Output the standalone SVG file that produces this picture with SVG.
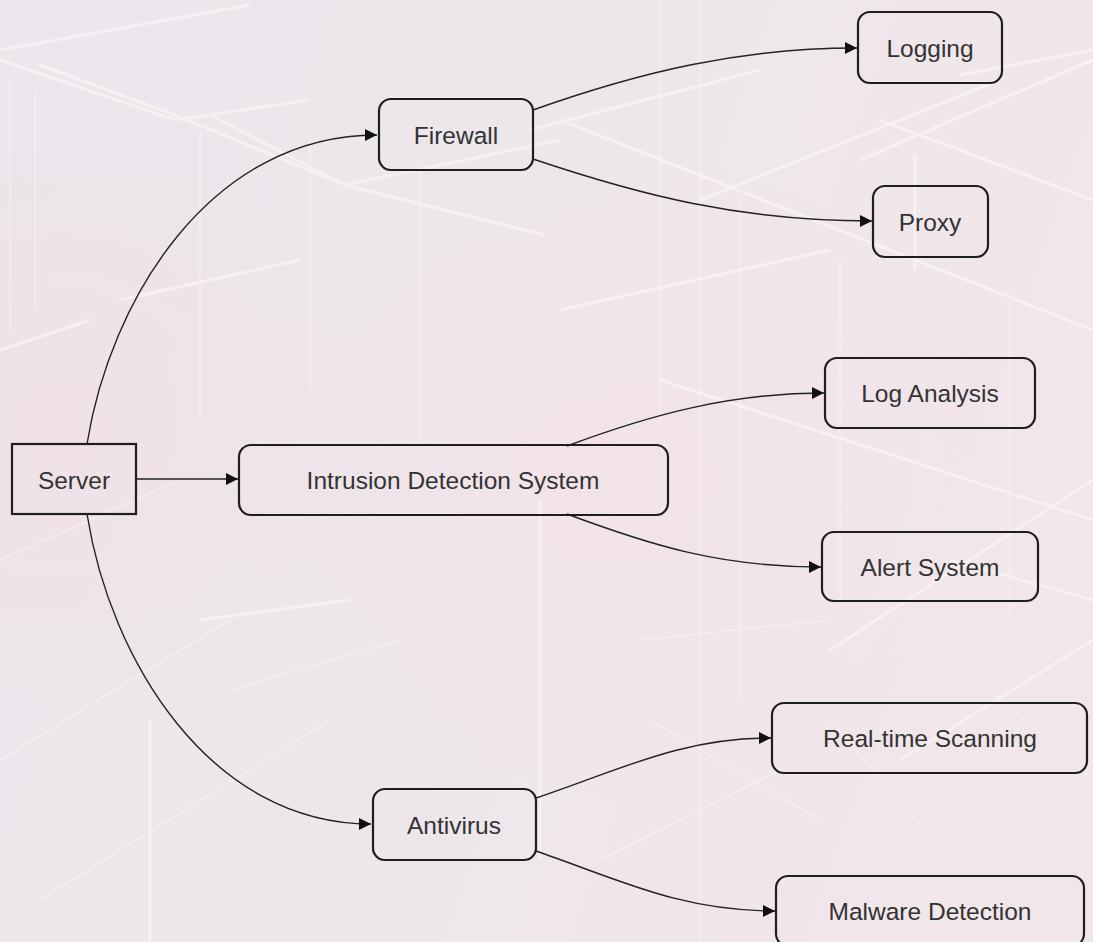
<svg xmlns="http://www.w3.org/2000/svg" width="1093" height="942" viewBox="0 0 1093 942">
  <style>
    .node { fill: none; stroke: #1e1e1e; stroke-width: 2.2; }
    .label { font-family: "Liberation Sans", Arial, sans-serif; font-size: 24.5px; fill: #333333; text-anchor: middle; dominant-baseline: central; }
    .edge { fill: none; stroke: #222222; stroke-width: 1.4; marker-end: url(#arrow); }
    .bgline { stroke: #fbf8f6; stroke-width: 3; fill: none; opacity: 0.6; }
    .bgthin { stroke: #f8f1f3; stroke-width: 1.5; fill: none; opacity: 0.7; }
  </style>
  <defs>
    <marker id="arrow" viewBox="0 0 10 10" refX="10" refY="5" markerWidth="14" markerHeight="12" markerUnits="userSpaceOnUse" orient="auto">
      <path d="M0,0 L10,5 L0,10 z" fill="#111111"/>
    </marker>
    <linearGradient id="bg" x1="0" y1="0" x2="1" y2="0.3">
      <stop offset="0" stop-color="#eae6eb"/>
      <stop offset="0.5" stop-color="#ece7eb"/>
      <stop offset="1" stop-color="#f1e6ea"/>
    </linearGradient>
    <radialGradient id="pink1" cx="0.55" cy="0.5" r="0.35">
      <stop offset="0" stop-color="#f4e2e8" stop-opacity="0.8"/>
      <stop offset="1" stop-color="#f4e2e8" stop-opacity="0"/>
    </radialGradient>
    <radialGradient id="pink2" cx="0.05" cy="0.45" r="0.3">
      <stop offset="0" stop-color="#f2e0e6" stop-opacity="0.8"/>
      <stop offset="1" stop-color="#f2e0e6" stop-opacity="0"/>
    </radialGradient>
  </defs>

  <g id="background">
    <rect x="0" y="0" width="1093" height="942" fill="url(#bg)"/>
    <rect x="0" y="0" width="1093" height="942" fill="url(#pink1)"/>
    <rect x="0" y="0" width="1093" height="942" fill="url(#pink2)"/>
    <path class="bgline" d="M0,50 L250,5 M0,60 L175,120 L310,100 M40,65 L175,115 M175,115 L345,185 L560,140 M210,115 L345,185 M530,130 L760,70 M345,185 L545,235 M960,75 L1093,50 M560,120 L1093,330"/>
    <path class="bgline" d="M700,200 L1000,80 M880,120 L1093,200 M860,160 L1093,60 M915,155 L915,270"/>
    <path class="bgthin" d="M35,90 L35,310 M10,80 L10,330 M200,130 L200,420 M310,135 L310,390 M420,165 L420,440 M660,0 L660,420 M700,0 L700,940 M740,200 L740,700 M840,260 L840,600 M1010,300 L1010,620"/>
    <path class="bgline" d="M0,350 L90,320 M120,300 L300,260 M560,310 L830,250 M660,380 L1093,520 M830,650 L1093,480 M900,760 L1093,640"/>
    <path class="bgthin" d="M0,560 L180,480 M0,760 L230,620 M40,900 L330,720 M230,690 L400,640 M640,640 L830,620 M650,720 L820,820 M830,720 L950,860 M600,860 L780,770 M990,690 L1093,780"/>
    <path class="bgline" d="M200,620 L350,600 M150,720 L150,942 M540,500 L540,860 M950,560 L1093,600"/>
  </g>

  <g id="connectors">
    <path class="edge" d="M87,444 C110,300 210,135 377,135"/>
    <path class="edge" d="M136,479 L238,479"/>
    <path class="edge" d="M87,514 C110,660 210,824 371,824"/>
    <path class="edge" d="M533,110 C640,72 740,48 857,48"/>
    <path class="edge" d="M533,159 C640,195 740,221 872,221"/>
    <path class="edge" d="M567,446 C650,415 730,393 824,393"/>
    <path class="edge" d="M567,514 C650,545 720,567 821,567"/>
    <path class="edge" d="M536,798 C620,770 680,738 771,738"/>
    <path class="edge" d="M536,851 C620,880 680,911 775,911"/>
  </g>

  <g id="node-server">
    <rect class="node" x="12" y="444" width="124" height="70"/>
    <text class="label" x="74" y="480">Server</text>
  </g>
  <g id="node-firewall">
    <rect class="node" x="379" y="99" width="154" height="71" rx="12"/>
    <text class="label" x="456" y="135">Firewall</text>
  </g>
  <g id="node-ids">
    <rect class="node" x="239" y="445" width="429" height="70" rx="12"/>
    <text class="label" x="453" y="480">Intrusion Detection System</text>
  </g>
  <g id="node-antivirus">
    <rect class="node" x="373" y="789" width="163" height="71" rx="12"/>
    <text class="label" x="454" y="825">Antivirus</text>
  </g>
  <g id="node-logging">
    <rect class="node" x="858" y="12" width="144" height="71" rx="12"/>
    <text class="label" x="930" y="48">Logging</text>
  </g>
  <g id="node-proxy">
    <rect class="node" x="873" y="186" width="115" height="71" rx="12"/>
    <text class="label" x="930" y="222">Proxy</text>
  </g>
  <g id="node-log-analysis">
    <rect class="node" x="825" y="358" width="210" height="70" rx="12"/>
    <text class="label" x="930" y="393">Log Analysis</text>
  </g>
  <g id="node-alert-system">
    <rect class="node" x="822" y="532" width="216" height="69" rx="12"/>
    <text class="label" x="930" y="567">Alert System</text>
  </g>
  <g id="node-realtime-scanning">
    <rect class="node" x="772" y="703" width="315" height="70" rx="12"/>
    <text class="label" x="930" y="738">Real-time Scanning</text>
  </g>
  <g id="node-malware-detection">
    <rect class="node" x="776" y="876" width="308" height="70" rx="12"/>
    <text class="label" x="930" y="911">Malware Detection</text>
  </g>
</svg>
